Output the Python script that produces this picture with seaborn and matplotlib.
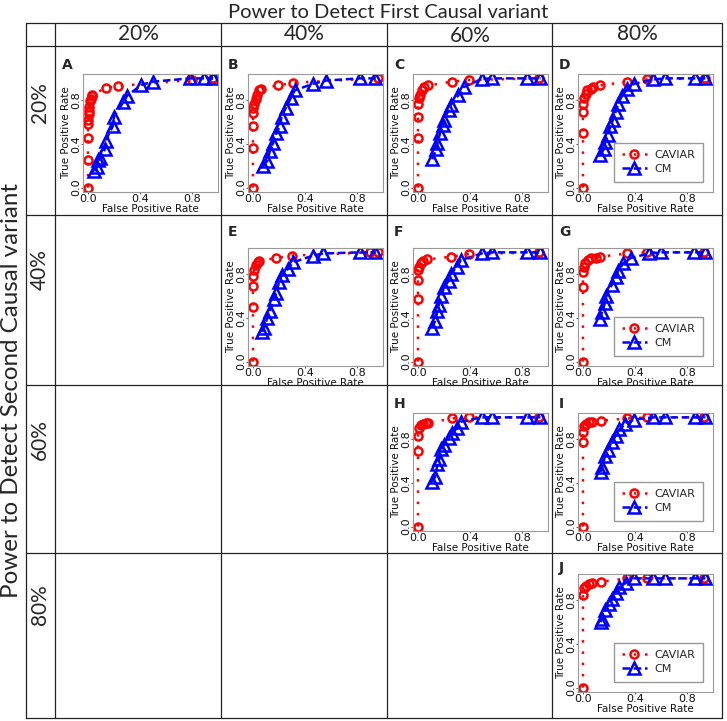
import matplotlib
matplotlib.use("Agg")
import matplotlib.pyplot as plt
import pandas as pd
import seaborn as sns
from matplotlib.transforms import Bbox, TransformedBbox

sns.set_theme(style="ticks")
plt.rcParams["font.family"] = ["DejaVu Sans"]

HEADER_FONT = ["Lato", "DejaVu Sans"]

TOP_TITLE = "Power to Detect First Causal variant"
SIDE_TITLE = "Power to Detect Second Causal variant"
POWER_LABELS = ["20%", "40%", "60%", "80%"]
PANEL_LETTERS = ["A", "B", "C", "D", "E", "F", "G", "H", "I", "J"]
# (row, column) of each panel in the table
PANEL_CELLS = [(0, 0), (0, 1), (0, 2), (0, 3), (1, 1), (1, 2), (1, 3), (2, 2), (2, 3), (3, 3)]

# CAVIAR curves (false positive rate, true positive rate)
cav_fpr_A = [0, 0, 0, 0, 0, 0.005, 0.008, 0.008, 0.013, 0.02, 0.028, 0.033, 0.135, 0.228, 0.80, 0.96]
cav_tpr_A = [0, 0.25, 0.45, 0.58, 0.62, 0.67, 0.70, 0.74, 0.79, 0.81, 0.84, 0.85, 0.91, 0.93, 0.985, 1.0]
cav_fpr_B = [0, 0, 0, 0, 0, 0.01, 0.02, 0.03, 0.05, 0.06, 0.19, 0.31, 0.96]
cav_tpr_B = [0, 0.365, 0.56, 0.68, 0.725, 0.77, 0.815, 0.845, 0.89, 0.905, 0.935, 0.96, 1.0]
cav_fpr_C = [0, 0, 0, 0, 0.008, 0.015, 0.03, 0.05, 0.08, 0.26, 0.39, 0.93]
cav_tpr_C = [0, 0.45, 0.65, 0.77, 0.82, 0.85, 0.89, 0.92, 0.935, 0.97, 0.985, 1.0]
cav_fpr_D = [0, 0, 0, 0.003, 0.008, 0.02, 0.03, 0.06, 0.08, 0.13, 0.34, 0.49, 0.94]
cav_tpr_D = [0, 0.5, 0.69, 0.77, 0.82, 0.86, 0.89, 0.905, 0.92, 0.935, 0.97, 0.99, 1.0]
cav_fpr_E = [0, 0, 0, 0, 0.008, 0.02, 0.04, 0.05, 0.18, 0.30, 0.90, 0.96]
cav_tpr_E = [0, 0.5, 0.69, 0.78, 0.84, 0.88, 0.91, 0.92, 0.95, 0.97, 1.0, 1.0]
cav_fpr_F = [0, 0, 0, 0, 0.008, 0.02, 0.04, 0.07, 0.25, 0.39, 0.93]
cav_tpr_F = [0, 0.57, 0.75, 0.84, 0.87, 0.90, 0.92, 0.935, 0.96, 0.985, 1.0]
cav_fpr_G = [0, 0, 0, 0.005, 0.015, 0.035, 0.06, 0.10, 0.13, 0.34, 0.49, 0.93]
cav_tpr_G = [0, 0.68, 0.82, 0.87, 0.90, 0.93, 0.945, 0.95, 0.96, 0.99, 1.0, 1.0]
cav_fpr_H = [0, 0, 0, 0.008, 0.02, 0.035, 0.06, 0.08, 0.26, 0.39, 0.93]
cav_tpr_H = [0, 0.69, 0.83, 0.90, 0.93, 0.94, 0.95, 0.95, 0.99, 1.0, 1.0]
cav_fpr_I = [0, 0, 0, 0.008, 0.02, 0.045, 0.07, 0.135, 0.34, 0.49, 0.93]
cav_tpr_I = [0, 0.77, 0.87, 0.92, 0.94, 0.955, 0.96, 0.97, 0.99, 1.0, 1.0]
cav_fpr_J = [0, 0, 0.008, 0.02, 0.045, 0.07, 0.135, 0.34, 0.49, 0.93]
cav_tpr_J = [0, 0.85, 0.91, 0.93, 0.95, 0.955, 0.97, 1.0, 1.0, 1.0]

# CM curves
cm_fpr_A = [0.05, 0.07, 0.08, 0.095, 0.13, 0.135, 0.19, 0.20, 0.27, 0.30, 0.41, 0.50, 0.78, 0.89, 0.96]
cm_tpr_A = [0.15, 0.19, 0.25, 0.27, 0.35, 0.43, 0.56, 0.65, 0.78, 0.84, 0.94, 0.97, 1.0, 1.0, 1.0]
cm_fpr_B = [0.08, 0.11, 0.13, 0.155, 0.18, 0.205, 0.22, 0.25, 0.29, 0.32, 0.46, 0.56, 0.82, 0.94]
cm_tpr_B = [0.20, 0.245, 0.335, 0.41, 0.50, 0.56, 0.65, 0.725, 0.82, 0.89, 0.95, 0.98, 1.0, 1.0]
cm_fpr_C = [0.11, 0.14, 0.15, 0.17, 0.195, 0.20, 0.235, 0.25, 0.31, 0.35, 0.49, 0.57, 0.84, 0.94]
cm_tpr_C = [0.26, 0.35, 0.41, 0.50, 0.575, 0.62, 0.71, 0.755, 0.845, 0.92, 0.995, 1.0, 1.0, 1.0]
cm_fpr_D = [0.13, 0.16, 0.17, 0.19, 0.21, 0.23, 0.25, 0.27, 0.30, 0.34, 0.39, 0.54, 0.63, 0.86, 0.94]
cm_tpr_D = [0.30, 0.35, 0.42, 0.48, 0.56, 0.62, 0.69, 0.77, 0.84, 0.90, 0.95, 0.99, 1.0, 1.0, 1.0]
cm_fpr_E = [0.07, 0.085, 0.11, 0.13, 0.16, 0.18, 0.20, 0.22, 0.27, 0.31, 0.46, 0.54, 0.82, 0.94]
cm_tpr_E = [0.27, 0.31, 0.40, 0.46, 0.57, 0.63, 0.73, 0.79, 0.85, 0.91, 0.97, 0.99, 1.0, 1.0]
cm_fpr_F = [0.11, 0.13, 0.15, 0.16, 0.18, 0.20, 0.235, 0.25, 0.30, 0.33, 0.49, 0.57, 0.84, 0.94]
cm_tpr_F = [0.31, 0.37, 0.46, 0.52, 0.60, 0.68, 0.74, 0.80, 0.87, 0.93, 0.99, 1.0, 1.0, 1.0]
cm_fpr_G = [0.13, 0.145, 0.17, 0.18, 0.22, 0.25, 0.27, 0.31, 0.37, 0.51, 0.60, 0.85, 0.94]
cm_tpr_G = [0.39, 0.45, 0.54, 0.60, 0.70, 0.77, 0.83, 0.90, 0.95, 0.99, 1.0, 1.0, 1.0]
cm_fpr_H = [0.11, 0.13, 0.15, 0.165, 0.18, 0.20, 0.235, 0.26, 0.30, 0.33, 0.49, 0.57, 0.84, 0.94]
cm_tpr_H = [0.41, 0.45, 0.57, 0.62, 0.71, 0.75, 0.81, 0.86, 0.90, 0.96, 1.0, 1.0, 1.0, 1.0]
cm_fpr_I = [0.135, 0.15, 0.17, 0.19, 0.22, 0.25, 0.28, 0.32, 0.39, 0.54, 0.63, 0.86, 0.94]
cm_tpr_I = [0.50, 0.55, 0.65, 0.70, 0.77, 0.83, 0.89, 0.935, 0.98, 1.0, 1.0, 1.0, 1.0]
cm_fpr_J = [0.135, 0.15, 0.17, 0.20, 0.22, 0.25, 0.28, 0.33, 0.39, 0.54, 0.63, 0.86, 0.94]
cm_tpr_J = [0.60, 0.63, 0.71, 0.77, 0.81, 0.87, 0.92, 0.96, 1.0, 1.0, 1.0, 1.0, 1.0]

CAVIAR = {"A": (cav_fpr_A, cav_tpr_A), "B": (cav_fpr_B, cav_tpr_B), "C": (cav_fpr_C, cav_tpr_C),
          "D": (cav_fpr_D, cav_tpr_D), "E": (cav_fpr_E, cav_tpr_E), "F": (cav_fpr_F, cav_tpr_F),
          "G": (cav_fpr_G, cav_tpr_G), "H": (cav_fpr_H, cav_tpr_H), "I": (cav_fpr_I, cav_tpr_I),
          "J": (cav_fpr_J, cav_tpr_J)}
CM = {"A": (cm_fpr_A, cm_tpr_A), "B": (cm_fpr_B, cm_tpr_B), "C": (cm_fpr_C, cm_tpr_C),
      "D": (cm_fpr_D, cm_tpr_D), "E": (cm_fpr_E, cm_tpr_E), "F": (cm_fpr_F, cm_tpr_F),
      "G": (cm_fpr_G, cm_tpr_G), "H": (cm_fpr_H, cm_tpr_H), "I": (cm_fpr_I, cm_tpr_I),
      "J": (cm_fpr_J, cm_tpr_J)}

W, H = 727, 721
fig = plt.figure(figsize=(W / 100, H / 100), dpi=100)
fig.patch.set_facecolor("white")


def fx(x):
    return x / W


def fy(y):
    return 1 - y / H


# table grid (pixel positions)
col_lines = [26, 55, 221, 387, 552, 722]
row_lines = [23, 46, 215, 385, 553, 718]
axes_left = [83, 248, 413, 578]
axes_top = [74, 248, 413, 574]
letter_y = [65, 232, 404, 568]
AX_W, AX_H = 135, 118

for x in col_lines:
    fig.add_artist(plt.Line2D([fx(x), fx(x)], [fy(row_lines[0]), fy(row_lines[-1])],
                              color="#222222", lw=0.9))
for y in row_lines:
    fig.add_artist(plt.Line2D([fx(col_lines[0]), fx(col_lines[-1])], [fy(y), fy(y)],
                              color="#222222", lw=0.9))

fig.text(fx(388), fy(12), TOP_TITLE, ha="center", va="center", fontsize=14.5, family=HEADER_FONT)
fig.text(fx(12), fy(390), SIDE_TITLE, ha="center", va="center", rotation=90, fontsize=17.4,
         family=HEADER_FONT)
head_x = [138, 304, 470, 637]
head_y = [34, 34, 36, 34]
for i, lab in enumerate(POWER_LABELS):
    fig.text(fx(head_x[i]), fy(head_y[i]), lab, ha="center", va="center", fontsize=15,
             family=HEADER_FONT)
row_head_y = [103, 270, 440, 605]
for i, lab in enumerate(POWER_LABELS):
    fig.text(fx(40), fy(row_head_y[i]), lab, ha="center", va="center", rotation=90, fontsize=15,
             family=HEADER_FONT)

for letter, (r, c) in zip(PANEL_LETTERS, PANEL_CELLS):
    left, top = axes_left[c], axes_top[r]
    ax = fig.add_axes([fx(left), fy(top + AX_H), fx(AX_W), AX_H / H])

    cav = pd.DataFrame({"fpr": CAVIAR[letter][0], "tpr": CAVIAR[letter][1]})
    cm = pd.DataFrame({"fpr": CM[letter][0], "tpr": CM[letter][1]})
    sns.lineplot(data=cav, x="fpr", y="tpr", ax=ax, estimator=None, sort=False, color="red",
                 lw=1.8, linestyle=(0, (1, 3.5)), marker="o", markersize=5.8,
                 markerfacecolor="none", markeredgecolor="red", markeredgewidth=1.8,
                 label="CAVIAR")
    sns.lineplot(data=cm, x="fpr", y="tpr", ax=ax, estimator=None, sort=False, color="blue",
                 lw=1.8, linestyle=(0, (3, 1.5)), marker="^", markersize=8.5,
                 markerfacecolor="none", markeredgecolor="blue", markeredgewidth=1.8,
                 label="CM")

    ax.set_xlim(-0.038, 0.998)
    ax.set_ylim(-0.04, 1.04)
    ax.set_xticks([0, 0.4, 0.8])
    ax.set_yticks([0, 0.4, 0.8])
    ax.set_xticklabels(["0.0", "0.4", "0.8"])
    ax.set_yticklabels(["0.0", "0.4", "0.8"], rotation=90, va="center")
    ax.tick_params(length=1.5, width=0.7, pad=0, labelsize=8, color="#555555",
                   labelcolor="#111111")
    for sp in ax.spines.values():
        sp.set_color("#999999")
        sp.set_linewidth(0.8)
    ax.set_xlabel("False Positive Rate", fontsize=7.5, labelpad=0, color="#111111")
    ax.set_ylabel("True Positive Rate", fontsize=7.5, labelpad=0, color="#111111")
    ax.grid(False)

    # clip x label to its table cell
    cell = Bbox.from_extents(fx(col_lines[c + 1]), fy(row_lines[r + 2]),
                             fx(col_lines[c + 2]), fy(row_lines[r + 1]))
    ax.xaxis.label.set_clip_box(TransformedBbox(cell, fig.transFigure))
    ax.xaxis.label.set_clip_on(True)

    if c == 3:
        ax.legend(loc="lower right", fontsize=8, frameon=True, fancybox=False,
                  edgecolor="#999999", framealpha=1, borderpad=0.7, labelspacing=0.35,
                  handlelength=2.2, handletextpad=0.7, borderaxespad=0.9)
    else:
        leg = ax.get_legend()
        if leg is not None:
            leg.remove()

    fig.text(fx(col_lines[c + 1] + 7), fy(letter_y[r]), letter, ha="left", va="center",
             fontsize=10, fontweight="bold")

fig.savefig("out.png", dpi=100, facecolor="white")
